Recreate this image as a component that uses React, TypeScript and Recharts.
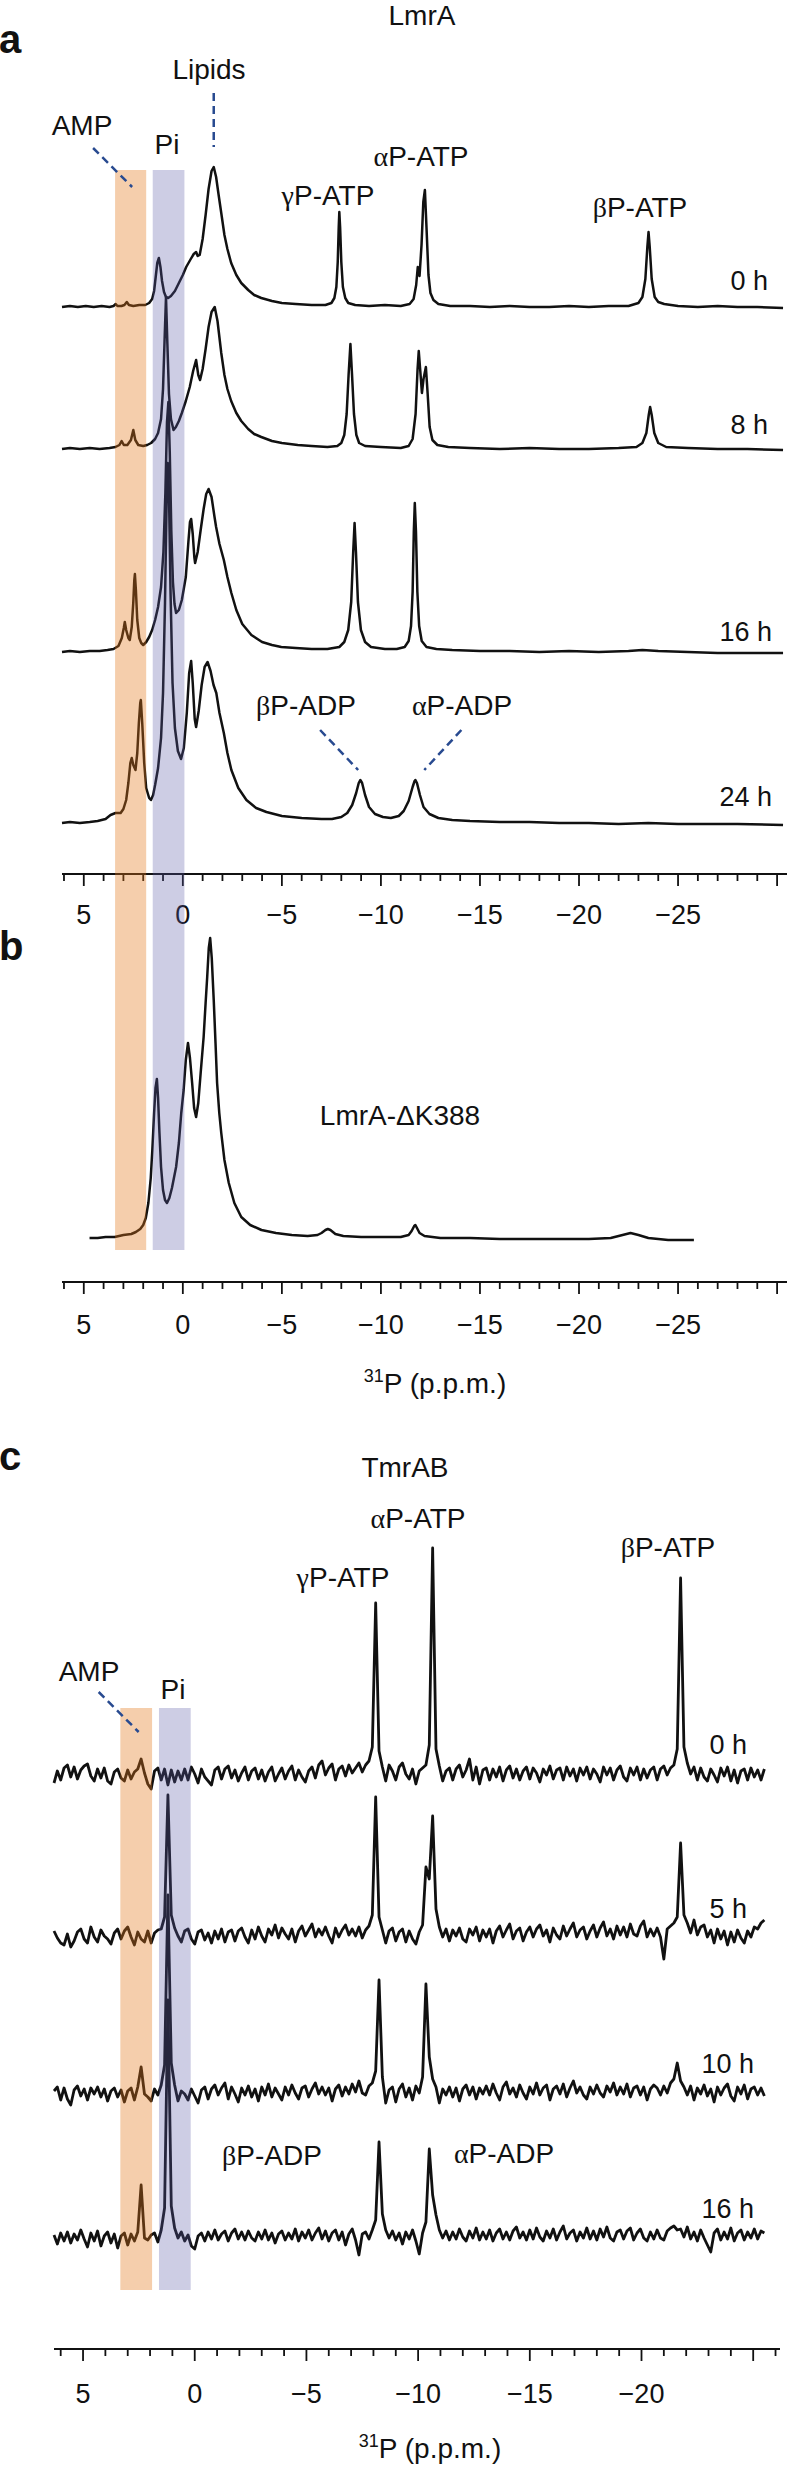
import type { ReactNode } from "react";
import {
  ComposedChart,
  Customized,
  Line,
  ReferenceArea,
  ReferenceLine,
  XAxis,
  YAxis,
} from "recharts";

// 31P NMR spectra: LmrA (a), LmrA-ΔK388 (b), TmrAB (c)

type Pair = [number, number];

// ---- panel a: LmrA, [ppm, intensity] ----
const LMRA_TIMES = ["0 h", "8 h", "16 h", "24 h"];

const LMRA_0H: Pair[] = [
  [6.1, 0], [5.7, 1], [5.3, 0], [4.9, 1], [4.5, 0], [4.1, 1], [3.7, 0], [3.5, 1], [3.39, 3], [3.3, 1],
  [3.1, 1], [2.95, 2], [2.83, 5], [2.72, 2], [2.5, 1], [2.2, 2], [1.9, 2], [1.7, 4], [1.55, 8], [1.45, 16],
  [1.37, 30], [1.29, 44], [1.21, 49], [1.13, 40], [1.05, 26], [0.95, 15], [0.85, 10], [0.74, 9], [0.6, 11], [0.4, 16],
  [0.2, 24], [0.0, 32], [-0.17, 40], [-0.4, 48], [-0.55, 53], [-0.67, 55], [-0.75, 51], [-0.85, 52], [-1.0, 68], [-1.15, 92],
  [-1.3, 118], [-1.45, 136], [-1.56, 140], [-1.68, 130], [-1.8, 113], [-1.94, 94], [-2.1, 72], [-2.25, 58], [-2.44, 44], [-2.7, 32],
  [-2.95, 24], [-3.3, 17], [-3.6, 12], [-3.96, 9], [-4.5, 6], [-5.0, 4], [-5.7, 3], [-6.5, 2], [-7.2, 2], [-7.5, 4],
  [-7.65, 9], [-7.75, 20], [-7.82, 45], [-7.87, 80], [-7.9, 95], [-7.94, 80], [-8.0, 45], [-8.08, 20], [-8.2, 9], [-8.35, 4],
  [-8.7, 2], [-9.4, 1], [-10.2, 2], [-11.0, 1], [-11.45, 3], [-11.65, 8], [-11.78, 22], [-11.86, 40], [-11.95, 31], [-12.05, 62],
  [-12.14, 105], [-12.22, 117], [-12.3, 80], [-12.4, 32], [-12.5, 14], [-12.65, 7], [-12.9, 3], [-13.5, 1], [-14.5, 1], [-15.5, 0],
  [-16.5, 1], [-17.5, 0], [-18.5, 0], [-19.5, 1], [-20.5, 0], [-21.5, 1], [-22.5, 1], [-23.0, 4], [-23.2, 10], [-23.35, 28],
  [-23.45, 60], [-23.51, 75], [-23.57, 60], [-23.67, 28], [-23.82, 10], [-24.0, 5], [-24.3, 3], [-25.0, 1], [-26.0, 0], [-27.0, 1],
  [-28.0, 0], [-29.0, 0], [-30.3, -1],
];

const LMRA_8H: Pair[] = [
  [6.1, 0], [5.7, 1], [5.2, 0], [4.7, 1], [4.2, 0], [3.7, 1], [3.4, 2], [3.2, 4], [3.09, 8], [2.98, 4],
  [2.8, 4], [2.62, 9], [2.5, 19], [2.4, 9], [2.25, 4], [2.0, 3], [1.8, 4], [1.6, 6], [1.4, 10], [1.25, 16],
  [1.1, 30], [1.0, 60], [0.92, 110], [0.85, 152], [0.78, 105], [0.7, 55], [0.6, 30], [0.47, 19], [0.35, 22], [0.2, 28],
  [0.05, 36], [-0.15, 48], [-0.35, 62], [-0.52, 78], [-0.67, 89], [-0.78, 74], [-0.87, 69], [-1.0, 80], [-1.15, 100], [-1.3, 122],
  [-1.45, 137], [-1.61, 142], [-1.75, 128], [-1.94, 96], [-2.1, 74], [-2.25, 60], [-2.44, 48], [-2.7, 36], [-2.95, 28], [-3.3, 20],
  [-3.6, 15], [-3.96, 12], [-4.5, 8], [-5.0, 6], [-5.8, 4], [-6.5, 3], [-7.3, 2], [-7.8, 3], [-8.0, 6], [-8.15, 14],
  [-8.27, 35], [-8.37, 75], [-8.46, 105], [-8.54, 75], [-8.64, 35], [-8.76, 14], [-8.9, 6], [-9.2, 3], [-10.0, 2], [-11.0, 1],
  [-11.4, 3], [-11.6, 10], [-11.75, 35], [-11.85, 80], [-11.91, 98], [-11.98, 80], [-12.07, 56], [-12.15, 70], [-12.27, 82], [-12.36, 55],
  [-12.46, 22], [-12.6, 9], [-12.85, 4], [-13.4, 2], [-14.5, 1], [-16.0, 0], [-17.5, 1], [-19.0, 0], [-20.5, 0], [-22.0, 1],
  [-22.9, 2], [-23.2, 6], [-23.4, 16], [-23.52, 34], [-23.59, 42], [-23.67, 34], [-23.8, 16], [-24.0, 6], [-24.4, 2], [-25.5, 1],
  [-27.0, 0], [-28.5, 0], [-30.3, -1],
];

const LMRA_16H: Pair[] = [
  [6.1, 0], [5.7, 1], [5.2, 0], [4.7, 1], [4.2, 1], [3.8, 2], [3.5, 3], [3.25, 6], [3.08, 14], [2.98, 24],
  [2.93, 30], [2.86, 22], [2.75, 14], [2.68, 12], [2.58, 25], [2.5, 50], [2.45, 72], [2.42, 78], [2.37, 62], [2.3, 32],
  [2.2, 14], [2.1, 9], [2.0, 7], [1.85, 10], [1.7, 15], [1.55, 22], [1.4, 32], [1.25, 45], [1.1, 65], [0.98, 100],
  [0.88, 160], [0.8, 230], [0.73, 250], [0.66, 200], [0.58, 120], [0.5, 70], [0.42, 48], [0.34, 39], [0.2, 42], [0.05, 52],
  [-0.15, 75], [-0.28, 110], [-0.36, 130], [-0.42, 133], [-0.5, 118], [-0.58, 95], [-0.62, 89], [-0.75, 100], [-0.9, 122], [-1.05, 143],
  [-1.18, 158], [-1.3, 163], [-1.45, 155], [-1.6, 135], [-1.68, 125], [-1.85, 108], [-2.07, 92], [-2.25, 75], [-2.45, 59], [-2.7, 42],
  [-3.0, 28], [-3.46, 17], [-4.0, 10], [-4.5, 7], [-4.97, 5], [-5.7, 4], [-6.5, 3], [-7.3, 3], [-7.9, 5], [-8.15, 10],
  [-8.35, 22], [-8.5, 50], [-8.6, 100], [-8.67, 129], [-8.74, 100], [-8.84, 50], [-8.99, 22], [-9.2, 10], [-9.5, 5], [-10.2, 3],
  [-10.8, 3], [-11.2, 5], [-11.4, 11], [-11.52, 26], [-11.6, 60], [-11.66, 120], [-11.71, 149], [-11.77, 120], [-11.84, 60], [-11.93, 26],
  [-12.06, 11], [-12.3, 5], [-12.8, 3], [-13.6, 2], [-15.0, 1], [-16.5, 1], [-18.0, 0], [-19.5, 1], [-21.0, 0], [-22.5, 1],
  [-23.2, 2], [-24.0, 1], [-25.5, 0], [-27.0, -1], [-28.5, -1], [-30.3, -1],
];

const LMRA_24H: Pair[] = [
  [6.1, 0], [5.7, 1], [5.2, 0], [4.7, 1], [4.3, 2], [3.9, 4], [3.65, 8], [3.4, 10], [3.14, 10], [3.0, 14],
  [2.86, 23], [2.75, 40], [2.65, 60], [2.58, 65], [2.5, 58], [2.39, 53], [2.3, 70], [2.22, 100], [2.15, 120], [2.12, 123],
  [2.05, 100], [1.95, 60], [1.85, 35], [1.7, 25], [1.61, 23], [1.5, 28], [1.4, 38], [1.25, 55], [1.1, 85], [1.0, 130],
  [0.9, 220], [0.82, 320], [0.76, 360], [0.7, 330], [0.62, 230], [0.52, 140], [0.4, 95], [0.25, 72], [0.09, 64], [-0.05, 75],
  [-0.2, 110], [-0.32, 150], [-0.42, 162], [-0.5, 140], [-0.6, 104], [-0.67, 96], [-0.8, 112], [-0.95, 138], [-1.1, 156], [-1.25, 161],
  [-1.4, 152], [-1.55, 138], [-1.69, 130], [-1.85, 110], [-2.07, 90], [-2.25, 70], [-2.45, 53], [-2.8, 35], [-3.21, 23], [-3.7, 15],
  [-4.22, 11], [-5.0, 7], [-6.0, 5], [-7.0, 4], [-7.53, 4], [-8.0, 6], [-8.3, 10], [-8.55, 18], [-8.75, 30], [-8.88, 40],
  [-8.96, 43], [-9.05, 40], [-9.2, 28], [-9.4, 16], [-9.7, 9], [-10.1, 6], [-10.5, 5], [-10.9, 7], [-11.15, 12], [-11.4, 22],
  [-11.6, 36], [-11.7, 42], [-11.74, 43], [-11.82, 40], [-11.97, 28], [-12.15, 16], [-12.45, 9], [-12.9, 5], [-13.6, 3], [-14.5, 2],
  [-16.0, 1], [-17.5, 1], [-19.0, 0], [-20.5, 0], [-22.0, -1], [-23.5, 0], [-25.0, -1], [-26.5, -1], [-28.0, -1], [-30.3, -2],
];

// ---- panel b: LmrA-ΔK388 ----
const DELTA_K388: Pair[] = [
  [4.71, 0], [4.3, 0], [3.9, 1], [3.44, 1], [3.0, 3], [2.6, 4], [2.37, 6], [2.15, 9], [2.0, 13], [1.87, 20],
  [1.74, 35], [1.62, 60], [1.54, 88], [1.45, 125], [1.38, 150], [1.31, 159], [1.25, 140], [1.18, 105], [1.1, 71], [1.0, 48],
  [0.9, 38], [0.8, 35], [0.68, 40], [0.55, 50], [0.45, 60], [0.34, 71], [0.2, 95], [0.08, 125], [-0.04, 148], [-0.15, 178],
  [-0.26, 195], [-0.36, 180], [-0.47, 155], [-0.57, 130], [-0.67, 121], [-0.78, 135], [-0.9, 165], [-1.05, 201], [-1.15, 235], [-1.23, 261],
  [-1.31, 290], [-1.38, 300], [-1.46, 280], [-1.56, 238], [-1.65, 195], [-1.73, 155], [-1.84, 125], [-1.94, 105], [-2.1, 78], [-2.32, 55],
  [-2.6, 35], [-2.95, 21], [-3.4, 13], [-3.97, 8], [-4.7, 5], [-5.5, 3], [-6.3, 2], [-6.8, 3], [-7.0, 5], [-7.2, 8],
  [-7.32, 9], [-7.45, 8], [-7.7, 4], [-8.1, 2], [-9.0, 1], [-10.0, 1], [-11.0, 1], [-11.4, 3], [-11.55, 7], [-11.68, 12],
  [-11.74, 13], [-11.82, 10], [-11.95, 5], [-12.2, 2], [-13.0, 0], [-14.5, 0], [-16.0, -1], [-17.5, -1], [-19.0, -1], [-20.5, -1],
  [-21.6, 0], [-22.2, 3], [-22.6, 5], [-23.0, 3], [-23.5, 0], [-24.5, -2], [-25.8, -2],
];

// ---- panel c: TmrAB, intensities sampled every 0.15 p.p.m. from 6.3 p.p.m. ----
const C_PPM_START = 6.3;
const C_PPM_STEP = 0.15;
const TMRAB_TIMES = ["0 h", "5 h", "10 h", "16 h"];

const TMRAB_0H = [
  -8, 4, -5, 7, 10, -2, 8, -4, 5, 9, 11, -1, -6, 6, -3, 7, -6, -9, 3, 6,
  -3, -6, 5, -4, 3, 6, 16, 2, -9, -14, 4, 7, -5, 6, -10, 5, -7, 4, -5, 6,
  -5, 8, 1, -8, 6, -2, -6, -10, 5, 8, -4, 6, 9, -3, 5, -6, 2, 8, -5, 4,
  7, -4, 5, -6, 3, 8, -6, 1, 7, -4, 4, 9, -5, 5, -2, -7, 4, 8, -3, 10,
  14, 0, 7, 11, -5, 6, 9, -1, 10, 2, 7, 12, 3, 10, 14, 28, 172, 24, 8, -6,
  10, 4, -5, 8, 12, 1, -4, 6, -9, 4, 7, 10, 30, 227, 26, 9, -6, 4, 7, -5,
  6, 10, -2, 5, 16, -5, 8, -9, 5, 7, -5, 6, -2, 8, -6, 5, 9, -3, 6, -5,
  4, 8, -4, 7, 2, -7, 6, 0, 9, -4, 5, 7, -5, 8, -1, 6, -6, 7, 0, 8,
  -4, 6, 1, -7, 8, 0, 7, -5, 5, 9, -2, -6, 7, 0, 8, -5, 6, -3, 5, 8,
  -5, 6, 9, 0, 7, 10, 26, 197, 28, 12, 1, 8, -5, 7, -2, -6, 6, 0, -7, 7,
  -1, 8, -6, 5, -8, 4, 6, -5, 7, -2, 5, -5, 6,
];

const TMRAB_5H = [
  6, -1, -6, -8, 3, -10, -4, 5, 8, -2, -6, 10, 0, -5, 7, 1, -2, -7, 4, 8,
  -2, 6, 10, 0, -8, 5, -2, -5, 6, -6, 4, 7, 8, 20, 142, 22, 9, 1, -5, 6,
  8, -2, -7, 5, 7, -3, 4, -6, 6, -2, 8, -5, 5, 7, -4, 6, 9, 0, -6, 7,
  -2, 10, 1, -5, 8, 2, 12, -1, 9, 3, -2, 8, -5, 6, 11, 1, 7, 13, 0, 8,
  2, 10, 1, -6, 9, 0, 7, 12, 2, 8, 1, 10, -1, 7, 11, 22, 140, 20, 7, -6,
  6, 9, -4, 5, 8, -5, 6, -2, -7, 5, 12, 70, 58, 121, 28, 10, 0, 8, -4, 7,
  1, 9, -2, -5, 8, 2, 10, -4, 7, 0, 8, -6, 6, 11, 0, 7, 13, -2, 6, 9,
  -4, 5, 10, 0, 8, 12, 1, 7, -5, 9, 2, -2, 11, 1, 8, 14, 0, 7, 10, -2,
  6, 12, 0, 9, 15, 1, 8, -2, 11, 2, 10, 0, 13, 3, 1, 11, 16, 0, 8, 1,
  9, 0, -22, 8, 11, 14, 20, 94, 22, 14, 4, 17, 2, 10, 12, 0, 7, -6, 8, -2,
  6, -8, 5, -5, 7, -1, -6, 6, 0, 10, 8, 14, 17,
];

const TMRAB_10H = [
  4, 8, -5, 7, -4, -10, 5, 9, -1, 6, -5, 7, 1, 8, -2, 6, -6, 4, 7, -2,
  5, -7, 4, 7, -5, 8, 28, 1, -2, -6, 6, 0, 10, 30, 200, 32, 10, -6, 4, 1,
  -5, 6, -1, -8, 5, 8, -4, 6, 10, 0, 7, 12, -4, 8, 1, -7, 7, 0, 9, -2,
  6, -6, 8, 0, 11, -2, 7, 1, -5, 8, 0, 10, 2, -4, 7, 9, -2, 6, 12, 1,
  8, 0, 7, -6, 6, 10, -1, 8, 1, 11, 3, 14, 2, 0, 9, 12, 24, 115, 18, -8,
  5, 8, -7, 6, 11, -2, 7, -5, 9, 2, 18, 111, 38, 16, 8, -8, 6, 0, 8, -2,
  7, -6, 6, 10, 0, 8, -4, 7, 1, 9, 0, 11, 2, -5, 8, 13, 1, 7, -2, 10,
  2, -4, 8, 1, 12, 0, 7, 10, -5, 6, 9, 1, 11, -2, 7, 14, 2, 8, 0, -4,
  8, 1, 10, 2, -2, 9, 3, 12, 0, 8, 1, 11, -2, 7, 9, 0, 8, -5, 6, 10,
  7, 0, 9, 2, 12, 16, 32, 14, 8, 0, 9, -5, 7, 1, 10, -1, 6, -7, 8, 0,
  7, 11, -1, -6, 8, 1, 10, -4, 6, 8, 0, 7, -1,
];

const TMRAB_16H = [
  5, -4, 7, -1, 8, -3, 6, 0, 10, 1, -7, 7, -1, 9, -6, 4, 8, -3, 6, -8,
  4, 7, -5, 6, -1, 8, 55, 2, 0, 5, 7, -2, 10, 32, 240, 34, 12, 2, 8, -1,
  5, -6, -9, 4, 7, -1, 8, 1, 10, 0, 6, 9, -1, 7, 11, 1, 8, 0, 9, 2,
  -1, 8, 1, 10, 0, 7, -3, 6, 9, 0, 7, 1, 11, -1, 8, 2, 10, 0, 7, 12,
  1, 9, -1, 7, 10, 0, 8, -5, 6, 11, 0, -15, 6, 8, 1, 10, 20, 98, 26, 10,
  2, 9, 0, 7, -4, 8, 1, 10, -1, -14, 7, 18, 91, 45, 25, 10, 2, 9, 0, 8,
  1, 11, 3, -1, 9, 2, 12, 0, 8, 1, 10, -1, 7, 11, 1, 8, 0, 9, 13, 2,
  8, 0, 10, 1, 12, 3, -1, 9, 2, 11, 0, 8, 14, 1, 7, 10, -1, 8, 2, 12,
  1, 9, 0, 11, 3, 13, 2, -1, 8, 10, 1, 9, 12, 0, 7, 11, 2, -1, 8, 1,
  10, 2, 0, 9, 12, 14, 10, 11, 3, 13, 1, 8, -1, 10, 2, -5, -12, 7, 11, 0,
  8, 1, 12, -1, 7, 10, 0, 8, 2, 11, 1, 9, 7,
];

// axis labels
const AB_TICK_LABELS = [5, 0, -5, -10, -15, -20, -25];
const C_TICK_LABELS = [5, 0, -5, -10, -15, -20];

// ---- layout ----
const W = 788;
const SANS = '"Liberation Sans", Arial, Helvetica, sans-serif';
const SERIF = '"Liberation Serif", "Times New Roman", serif';
const INK = "#111111";
const DASH = "#284a90";
const ORANGE = "#e2761a";
const PURPLE = "#5a5aa6";

const AB_DOMAIN: [number, number] = [-30.5, 6.1];
const AB_MARGIN = { top: 0, right: 1, bottom: 0, left: 62 };
const C_DOMAIN: [number, number] = [-26.2, 6.3];
const C_MARGIN = { top: 0, right: 8, bottom: 0, left: 54 };
const AB_TICKS = Array.from({ length: 37 }, (_, i) => 6 - i);
const C_TICKS = Array.from({ length: 33 }, (_, i) => 6 - i);

type Pt = { x: number; y: number };
const fromPairs = (pairs: Pair[]): Pt[] => pairs.map(([x, y]) => ({ x, y }));
const fromGrid = (values: number[]): Pt[] =>
  values.map((y, i) => ({ x: Math.round((C_PPM_START - i * C_PPM_STEP) * 100) / 100, y }));

type Trace = { id: string; base: number; points: Pt[] };

const TRACES_A: Trace[] = [
  { id: "a0", base: 307, points: fromPairs(LMRA_0H) },
  { id: "a8", base: 449, points: fromPairs(LMRA_8H) },
  { id: "a16", base: 652, points: fromPairs(LMRA_16H) },
  { id: "a24", base: 823, points: fromPairs(LMRA_24H) },
];
const TRACES_B: Trace[] = [{ id: "b", base: 338, points: fromPairs(DELTA_K388) }];
const TRACES_C: Trace[] = [
  { id: "c0", base: 375, points: fromGrid(TMRAB_0H) },
  { id: "c5", base: 537, points: fromGrid(TMRAB_5H) },
  { id: "c10", base: 695, points: fromGrid(TMRAB_10H) },
  { id: "c16", base: 840, points: fromGrid(TMRAB_16H) },
];

const fmt = (v: number) => (v < 0 ? `\u2212${-v}` : `${v}`);

function tickRenderer(axisY: number, labelY: number, labels: number[]) {
  return function Tick(props: any) {
    const { x, payload } = props;
    const v = payload?.value as number;
    const major = v % 5 === 0;
    return (
      <g>
        <line x1={x} x2={x} y1={axisY} y2={axisY + (major ? 12 : 7)} stroke={INK} strokeWidth={1.8} />
        {labels.includes(v) && (
          <text x={x} y={labelY} textAnchor="middle" fontFamily={SANS} fontSize={27} fill={INK}>
            {fmt(v)}
          </text>
        )}
      </g>
    );
  };
}

type SpectrumProps = {
  top: number;
  height: number;
  axisY: number;
  labelY: number;
  domain: [number, number];
  margin: typeof AB_MARGIN;
  ticks: number[];
  labels: number[];
  traces: Trace[];
  strokeWidth: number;
};

function Spectrum({ top, height, axisY, labelY, domain, margin, ticks, labels, traces, strokeWidth }: SpectrumProps) {
  return (
    <div style={{ position: "absolute", left: 0, top }}>
      <ComposedChart width={W} height={height} margin={margin}>
        <XAxis
          type="number"
          dataKey="x"
          domain={domain}
          reversed
          ticks={ticks}
          interval={0}
          tick={tickRenderer(axisY, labelY, labels)}
          tickLine={false}
          axisLine={{ stroke: INK, strokeWidth: 2 }}
          height={height - axisY}
        />
        {traces.map((t) => (
          <YAxis key={t.id} yAxisId={t.id} type="number" hide domain={[t.base - axisY, t.base]} />
        ))}
        {traces.map((t) => (
          <Line
            key={t.id}
            yAxisId={t.id}
            data={t.points}
            dataKey="y"
            type="linear"
            dot={false}
            stroke={INK}
            strokeWidth={strokeWidth}
            strokeLinejoin="round"
            isAnimationActive={false}
          />
        ))}
      </ComposedChart>
    </div>
  );
}

function T({ x, y, children, anchor = "middle", size = 28, bold = false }: {
  x: number; y: number; children: ReactNode; anchor?: "start" | "middle" | "end"; size?: number; bold?: boolean;
}) {
  return (
    <text x={x} y={y} textAnchor={anchor} fontFamily={SANS} fontSize={size} fontWeight={bold ? 700 : 400} fill={INK}>
      {children}
    </text>
  );
}

const G = ({ c }: { c: string }) => <tspan fontFamily={SERIF}>{c}</tspan>;

const PPM_LABEL = (
  <>
    <tspan fontSize={18} dy={-11}>31</tspan>
    <tspan dy={11}>P (p.p.m.)</tspan>
  </>
);

// the overlay needs one row so that its axes get a domain
const OVERLAY_ROW = [{ x: 0, y: 0 }];

function Overlay({ top, height, domain, margin, children }: {
  top: number; height: number; domain: [number, number]; margin: typeof AB_MARGIN; children: ReactNode;
}) {
  return (
    <div style={{ position: "absolute", left: 0, top, pointerEvents: "none" }}>
      <ComposedChart width={W} height={height} margin={margin} data={OVERLAY_ROW}>
        <XAxis type="number" dataKey="x" domain={domain} reversed hide allowDataOverflow />
        <YAxis type="number" dataKey="y" domain={[0, height]} reversed hide allowDataOverflow />
        {children}
      </ComposedChart>
    </div>
  );
}

const dashProps = { stroke: DASH, strokeWidth: 2.5, strokeDasharray: "8 5", ifOverflow: "visible" as const };

function LabelsAB() {
  const timeX = [768, 768, 772, 772];
  const timeY = [290, 434, 641, 806];
  return (
    <g>
      <T x={-1} y={53} anchor="start" size={40} bold>a</T>
      <T x={422} y={25}>LmrA</T>
      <T x={209} y={79}>Lipids</T>
      <T x={82} y={135}>AMP</T>
      <T x={167} y={154}>Pi</T>
      <T x={328} y={205}><G c="γ" />P-ATP</T>
      <T x={421} y={166}><G c="α" />P-ATP</T>
      <T x={640} y={217}><G c="β" />P-ATP</T>
      {LMRA_TIMES.map((t, i) => (
        <T key={t} x={timeX[i]} y={timeY[i]} anchor="end" size={27}>{t}</T>
      ))}
      <T x={306} y={715}><G c="β" />P-ADP</T>
      <T x={462} y={715}><G c="α" />P-ADP</T>
      <T x={-1} y={960} anchor="start" size={40} bold>b</T>
      <T x={400} y={1125}>LmrA-ΔK388</T>
      <T x={435} y={1393}>{PPM_LABEL}</T>
    </g>
  );
}

function LabelsC() {
  const timeX = [747, 747, 754, 754];
  const timeY = [354, 518, 673, 818];
  return (
    <g>
      <T x={-1} y={70} anchor="start" size={40} bold>c</T>
      <T x={405} y={77}>TmrAB</T>
      <T x={418} y={128}><G c="α" />P-ATP</T>
      <T x={343} y={187}><G c="γ" />P-ATP</T>
      <T x={668} y={157}><G c="β" />P-ATP</T>
      <T x={89} y={281}>AMP</T>
      <T x={173} y={299}>Pi</T>
      {TMRAB_TIMES.map((t, i) => (
        <T key={t} x={timeX[i]} y={timeY[i]} anchor="end" size={27}>{t}</T>
      ))}
      <T x={272} y={765}><G c="β" />P-ADP</T>
      <T x={504} y={763}><G c="α" />P-ADP</T>
      <T x={430} y={1058}>{PPM_LABEL}</T>
    </g>
  );
}

export default function App() {
  return (
    <div style={{ position: "absolute", left: 0, top: 0, width: W, height: 2470, background: "#fff", overflow: "hidden" }}>
      <Spectrum top={0} height={940} axisY={874} labelY={924} domain={AB_DOMAIN} margin={AB_MARGIN}
        ticks={AB_TICKS} labels={AB_TICK_LABELS} traces={TRACES_A} strokeWidth={2.5} />
      <Spectrum top={900} height={500} axisY={382} labelY={434} domain={AB_DOMAIN} margin={AB_MARGIN}
        ticks={AB_TICKS} labels={AB_TICK_LABELS} traces={TRACES_B} strokeWidth={2.5} />
      <Spectrum top={1400} height={1070} axisY={949} labelY={1003} domain={C_DOMAIN} margin={C_MARGIN}
        ticks={C_TICKS} labels={C_TICK_LABELS} traces={TRACES_C} strokeWidth={2.8} />

      <Overlay top={0} height={1400} domain={AB_DOMAIN} margin={AB_MARGIN}>
        <ReferenceArea x1={3.42} x2={1.85} y1={170} y2={1250} fill={ORANGE} fillOpacity={0.36} stroke="none" ifOverflow="visible" />
        <ReferenceArea x1={1.52} x2={-0.08} y1={170} y2={1250} fill={PURPLE} fillOpacity={0.3} stroke="none" ifOverflow="visible" />
        <ReferenceLine segment={[{ x: -1.56, y: 93 }, { x: -1.56, y: 147 }]} {...dashProps} />
        <ReferenceLine segment={[{ x: 4.53, y: 148 }, { x: 2.56, y: 187 }]} {...dashProps} />
        <ReferenceLine segment={[{ x: -6.93, y: 730 }, { x: -8.85, y: 770 }]} {...dashProps} />
        <ReferenceLine segment={[{ x: -14.06, y: 730 }, { x: -12.19, y: 770 }]} {...dashProps} />
        <Customized component={LabelsAB} />
      </Overlay>

      <Overlay top={1400} height={1070} domain={C_DOMAIN} margin={C_MARGIN}>
        <ReferenceArea x1={3.33} x2={1.91} y1={308} y2={890} fill={ORANGE} fillOpacity={0.36} stroke="none" ifOverflow="visible" />
        <ReferenceArea x1={1.6} x2={0.18} y1={308} y2={890} fill={PURPLE} fillOpacity={0.3} stroke="none" ifOverflow="visible" />
        <ReferenceLine segment={[{ x: 4.3, y: 292 }, { x: 2.51, y: 332 }]} {...dashProps} />
        <Customized component={LabelsC} />
      </Overlay>
    </div>
  );
}
